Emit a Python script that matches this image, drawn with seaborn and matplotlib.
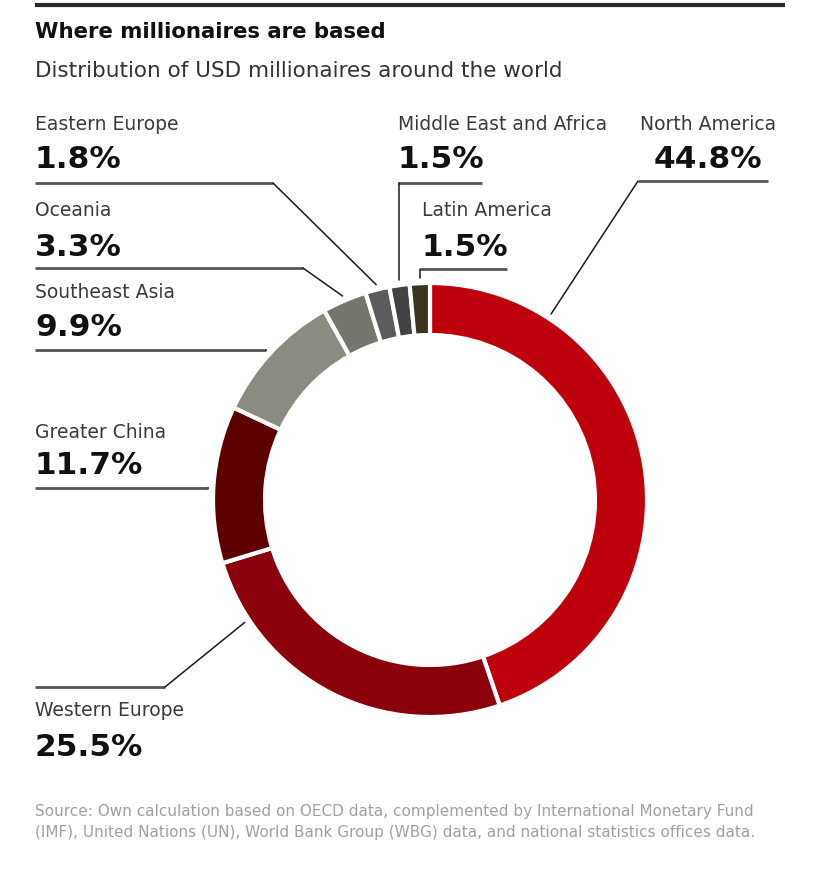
import numpy as np
import matplotlib.pyplot as plt
import seaborn as sns

# data
regions = ["North America", "Western Europe", "Greater China", "Southeast Asia",
           "Oceania", "Eastern Europe", "Middle East and Africa", "Latin America"]
shares = [44.8, 25.5, 11.7, 9.9, 3.3, 1.8, 1.5, 1.5]
colors = ["#bd000c", "#8a000b", "#5f0000", "#8b8b81",
          "#76766e", "#5b5c5e", "#434345", "#3b3520"]

sns.set_theme(style="white")
plt.rcParams['font.family'] = ['DejaVu Sans']

W, H = 820, 874
fig = plt.figure(figsize=(8.2, 8.74), dpi=100)
ax = fig.add_axes([0, 0, 1, 1])


def Y(py):
    # pixel row (from top) -> data y
    return H - py


cx, cy, R, ring = 430, 500, 217, 52
wedges, _ = ax.pie(shares, colors=colors, startangle=90, counterclock=False,
                   radius=R, center=(cx, Y(cy)),
                   wedgeprops=dict(width=ring, edgecolor='white', linewidth=3))
ax.set_xlim(0, W)
ax.set_ylim(0, H)
ax.set_aspect('equal')
ax.axis('off')

# label layout (pixel positions): text_x, ha, name_y, pct_y, line_y, line_x0, line_x1, elbow_x, frac
layout = {
    "North America":          (708, 'center', 124, 160, 181, 638, 768, 638, 0.205),
    "Western Europe":         (35, 'left', 711, 748, 687, 35, 165, 165, 0.82),
    "Greater China":          (35, 'left', 432, 466, 488, 35, 208, 208, 0.475),
    "Southeast Asia":         (35, 'left', 293, 327, 350, 35, 266, 266, 0.486),
    "Oceania":                (35, 'left', 211, 247, 268, 35, 303, 303, 0.5),
    "Eastern Europe":         (35, 'left', 125, 160, 183, 35, 273, 273, 0.5),
    "Middle East and Africa": (398, 'left', 124, 160, 183, 398, 482, None, 0.5),
    "Latin America":          (422, 'left', 211, 247, 269, 422, 507, None, 0.5),
}

for name, val, w in zip(regions, shares, wedges):
    tx, ha, ny, py, ly, x0, x1, ex, frac = layout[name]
    # anchor on the outer edge of the wedge (clockwise fraction from its start)
    ang = np.deg2rad(w.theta2 - frac * (w.theta2 - w.theta1))
    ax_x = cx + (R + 5) * np.cos(ang)
    ax_y = Y(cy) + (R + 5) * np.sin(ang)
    if ex is None:
        ex = ax_x
        x0 = min(x0, ax_x)
    ax.plot([x0, x1], [Y(ly), Y(ly)], color='#555555', lw=2.0, solid_capstyle='butt')
    ax.plot([ex, ax_x], [Y(ly), ax_y], color='#1a1a1a', lw=1.1)
    ax.text(tx, Y(ny), name, ha=ha, va='center', fontsize=13.5, color='#3a3a3a')
    ax.text(tx, Y(py), f"{val:.1f}%", ha=ha, va='center', fontsize=22.5,
            fontweight='bold', color='#111111')

# header
ax.plot([35, 785], [Y(5), Y(5)], color='#2b2b2b', lw=3, solid_capstyle='butt')
ax.text(35, Y(32), "Where millionaires are based", ha='left', va='center',
        fontsize=15.3, fontweight='bold', color='#111111')
ax.text(35, Y(71), "Distribution of USD millionaires around the world", ha='left',
        va='center', fontsize=15.5, color='#333333')

# source
ax.text(35, Y(822), "Source: Own calculation based on OECD data, complemented by International Monetary Fund\n"
        "(IMF), United Nations (UN), World Bank Group (WBG) data, and national statistics offices data.",
        ha='left', va='center', fontsize=11, color='#a0a0a0', linespacing=1.45)

fig.savefig('out.png', dpi=100)
